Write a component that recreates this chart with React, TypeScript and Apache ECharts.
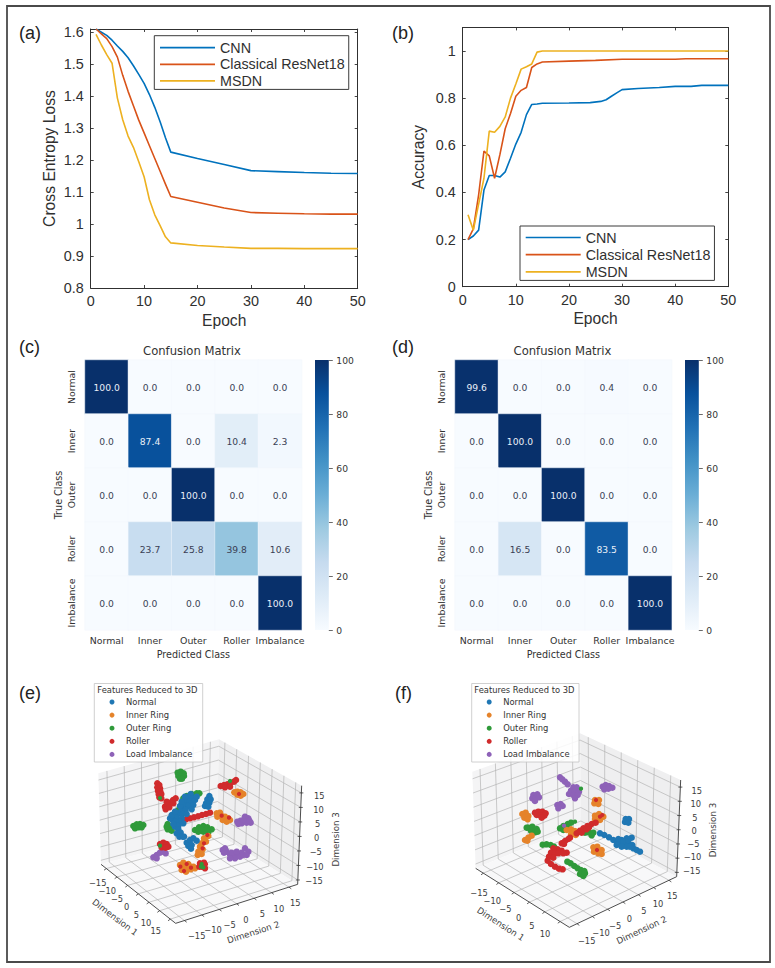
import React, { useEffect, useRef } from "react";
import * as echarts from "echarts";

// ---------- line charts ----------
const lossEpochs = [1,2,3,4,5,6,7,8,9,10,11,12,13,14,15,20,25,30,35,40,45,50];
const lossCNN = [1.61,1.6,1.59,1.575,1.557,1.54,1.52,1.495,1.468,1.44,1.405,1.365,1.32,1.27,1.225,1.205,1.186,1.167,1.164,1.161,1.159,1.158];
const lossResNet = [1.61,1.595,1.58,1.555,1.522,1.465,1.415,1.37,1.325,1.285,1.245,1.205,1.165,1.125,1.086,1.068,1.05,1.036,1.034,1.032,1.031,1.031];
const lossMSDN = [1.593,1.56,1.53,1.503,1.394,1.326,1.275,1.24,1.195,1.148,1.076,1.029,0.995,0.96,0.941,0.933,0.928,0.924,0.924,0.923,0.923,0.923];

const accCNNx = [1,2,3,4,5,6,7,8,9,10,11,12,13,14,15,20,24,26,27,28,29,30,33,37,40,43,45,50];
const accCNN = [0.2,0.215,0.24,0.41,0.472,0.472,0.465,0.487,0.545,0.605,0.655,0.73,0.773,0.775,0.778,0.779,0.781,0.786,0.793,0.808,0.822,0.836,0.841,0.845,0.85,0.85,0.854,0.854];
const accResNetx = [1,2,3,4,5,6,7,8,9,10,11,12,13,14,15,20,25,30,40,42,50];
const accResNet = [0.2,0.245,0.39,0.575,0.555,0.46,0.56,0.67,0.735,0.808,0.833,0.845,0.93,0.945,0.953,0.957,0.96,0.965,0.965,0.967,0.967];
const accMSDNx = [1,2,3,4,5,6,7,8,9,10,11,12,13,14,15,50];
const accMSDN = [0.305,0.24,0.35,0.46,0.66,0.655,0.68,0.72,0.8,0.86,0.923,0.933,0.945,0.995,1,1];

const lineNames = ["CNN", "Classical ResNet18", "MSDN"];
const lineColors = ["#0072BD", "#D95319", "#EDB120"];

// ---------- confusion matrices ----------
const classes = ["Normal", "Inner", "Outer", "Roller", "Imbalance"];
const matrixC = [
  [100, 0, 0, 0, 0],
  [0, 87.4, 0, 10.4, 2.3],
  [0, 0, 100, 0, 0],
  [0, 23.7, 25.8, 39.8, 10.6],
  [0, 0, 0, 0, 100],
];
const matrixD = [
  [99.6, 0, 0, 0.4, 0],
  [0, 100, 0, 0, 0],
  [0, 0, 100, 0, 0],
  [0, 16.5, 0, 83.5, 0],
  [0, 0, 0, 0, 100],
];
const BLUES = ["#f7fbff","#deebf7","#c6dbef","#9ecae1","#6baed6","#4292c6","#2171b5","#08519c","#08306b"];
const colorbarTop = [100];

// ---------- 3D feature clusters, read as positions on the projected picture plane ----------
const classNames3D = ["Normal", "Inner Ring", "Outer Ring", "Roller", "Load Imbalance"];
const classColors3D = ["#1f77b4", "#e5832a", "#2f9a3a", "#d02b2c", "#8e62b8"];

const outerE = [[533,308],[542,305],[551,310],[535,318],[545,318],[552,318],[540,326],[546,326],[550,385],[560,378],[575,372],[590,370],[598,370],[540,410],[535,420],[400,468],[410,463],[420,462],[430,465],[405,475],[415,472],[425,472],[503,462],[512,470],[503,478],[515,482],[500,470],[585,480],[597,472],[610,468],[622,472],[635,478],[595,485],[610,485],[625,487],[605,478],[618,480]];
const imbalanceE = [[722,452],[735,440],[745,445],[712,455],[725,460],[740,458],[752,458],[738,448],[730,450],[715,462],[748,452],[460,562],[470,555],[480,548],[490,545],[497,550],[470,565],[668,540],[680,545],[690,553],[702,558],[712,553],[725,548],[735,535],[745,545],[705,565],[720,560],[675,535],[695,548],[710,545],[730,555],[690,565],[740,555],[672,548]];
const innerE = [[703,367],[712,365],[722,367],[730,372],[712,374],[722,377],[650,430],[660,428],[652,440],[665,438],[675,440],[685,445],[668,450],[680,455],[690,450],[625,498],[612,505],[618,515],[605,520],[600,530],[608,538],[595,545],[605,552],[593,555],[540,585],[550,578],[565,582],[580,590],[545,600],[558,605],[572,598],[585,595],[555,592],[570,590]];
const rollerE = [[472,340],[478,345],[472,352],[480,355],[474,362],[481,365],[476,372],[484,372],[478,382],[484,385],[495,410],[503,405],[511,398],[519,390],[527,385],[497,418],[508,412],[520,400],[500,395],[662,348],[672,345],[682,343],[692,338],[702,335],[708,330],[675,352],[690,350],[558,448],[570,445],[582,442],[594,439],[606,435],[618,432],[630,428],[480,522],[490,518],[500,522],[485,532],[497,533],[505,530],[600,580],[612,578],[605,590],[615,595],[598,590]];
const strayRollerE = [[717,372],[665,437],[687,443],[622,495],[608,535],[612,520],[541,590],[560,582],[573,593],[552,603],[618,583]];
const normalE = [[628,378],[622,388],[632,388],[618,400],[628,398],[615,408],[625,410],[572,372],[565,382],[577,385],[558,393],[570,395],[550,405],[565,408],[580,405],[545,418],[557,420],[535,430],[548,432],[520,437],[530,442],[545,445],[518,450],[525,455],[540,455],[525,470],[535,468],[535,478],[530,490],[542,488],[538,500],[548,500],[552,500],[560,518],[570,510],[580,505],[590,512],[565,528],[575,525],[573,536],[510,445],[515,435],[525,425],[540,408],[555,380],[545,395],[585,390],[590,380],[560,432],[550,460],[520,462],[575,418]];
const strayOuterE = [[480,384],[690,333],[480,527],[605,582],[610,592],[603,590]];

const outerF = [[425,473],[430,473],[442,470],[455,477],[438,482],[450,487],[458,485],[525,475],[535,468],[548,462],[558,458],[535,480],[547,473],[600,488],[612,487],[625,488],[620,496],[473,524],[485,523],[497,525],[507,530],[547,575],[557,580],[568,588],[578,595],[588,600],[598,603],[585,612],[595,618],[600,610]];
const imbalanceF = [[525,322],[532,328],[540,335],[548,343],[565,352],[575,352],[558,362],[570,362],[582,365],[552,372],[565,375],[578,375],[570,385],[653,350],[662,345],[672,348],[682,353],[658,358],[670,356],[445,375],[457,373],[442,385],[452,385],[462,382],[450,393],[517,405],[527,402],[533,408],[520,415]];
const innerF = [[630,390],[642,390],[628,400],[640,402],[412,432],[422,428],[430,438],[418,443],[428,448],[630,437],[642,432],[655,440],[630,447],[645,450],[420,510],[430,503],[440,497],[427,512],[545,480],[558,478],[570,483],[558,492],[572,495],[625,532],[637,530],[650,540],[627,545],[640,550],[650,552],[638,540],[645,545]];
const rollerF = [[450,428],[460,425],[472,425],[482,430],[455,435],[467,437],[478,437],[470,443],[575,490],[585,482],[595,475],[607,468],[620,462],[632,458],[590,488],[604,478],[612,472],[530,520],[540,513],[550,507],[555,503],[537,522],[545,548],[530,542],[518,538],[505,535],[498,548],[510,550],[520,550],[535,550],[492,560],[505,563],[488,572],[498,582],[510,590],[522,596],[533,598]];
const strayRollerF = [[633,390],[645,440],[652,435],[636,540]];
const normalF = [[722,447],[732,447],[720,456],[730,458],[645,490],[658,495],[672,502],[685,510],[697,517],[710,510],[725,505],[740,503],[705,522],[718,520],[730,518],[742,525],[745,535],[755,540],[765,545],[725,530],[735,530],[700,507],[715,515],[730,510],[710,530],[695,525]];
const strayOuterF = [[588,356],[570,455]];
const strayImbalanceF = [[537,467]];

const ticksXE = [-15,-10,-5,0,5,10,15];
const ticksXF = [-15,-10,-5,0,5,10];
const ticksYZ = [-15,-10,-5,0,5,10,15];

// ---------- layout ----------
const SANS = "'Liberation Sans', Arial, sans-serif";
const DEJA = "'DejaVu Sans', sans-serif";
const INK = "#303030";

type P = number[];
type Prim =
  | { k: "poly"; pts: P[]; fill: string }
  | { k: "line"; a: P; b: P; color: string; w: number }
  | { k: "text"; at: P; text: string; size: number; rot?: number };

const fmtTick = (t: number) => (t < 0 ? "\u2212" + Math.abs(t) : String(t));

function wireframe(g: any): Prim[] {
  const { c, lim } = g;
  const frac = (i: number, t: number) => (t - lim[i][0]) / (lim[i][1] - lim[i][0]);
  const mix = (a: P, b: P, t: number) => [a[0] + (b[0] - a[0]) * t, a[1] + (b[1] - a[1]) * t];
  const pos = (u: number, v: number, w: number) => {
    const lo = mix(mix(c.b00, c.b10, u), mix(c.b01, c.b11, u), v);
    const hi = mix(mix(c.t00, c.t10, u), mix(c.t01, c.t11, u), v);
    return mix(lo, hi, w);
  };
  const out: Prim[] = [];
  out.push({ k: "poly", pts: [pos(0,0,0), pos(0,1,0), pos(0,1,1), pos(0,0,1)], fill: "#f4f4f5" });
  out.push({ k: "poly", pts: [pos(0,1,0), pos(1,1,0), pos(1,1,1), pos(0,1,1)], fill: "#efeff0" });
  out.push({ k: "poly", pts: [pos(0,0,0), pos(1,0,0), pos(1,1,0), pos(0,1,0)], fill: "#f8f8f9" });
  const gc = "#b4b4b4";
  const gw = 0.7;
  g.tx.forEach((t: number) => {
    const u = frac(0, t);
    out.push({ k: "line", a: pos(u,0,0), b: pos(u,1,0), color: gc, w: gw });
    out.push({ k: "line", a: pos(u,1,0), b: pos(u,1,1), color: gc, w: gw });
  });
  g.ty.forEach((t: number) => {
    const v = frac(1, t);
    out.push({ k: "line", a: pos(1,v,0), b: pos(0,v,0), color: gc, w: gw });
    out.push({ k: "line", a: pos(0,v,0), b: pos(0,v,1), color: gc, w: gw });
  });
  g.tz.forEach((t: number) => {
    const w = frac(2, t);
    out.push({ k: "line", a: pos(0,0,w), b: pos(0,1,w), color: gc, w: gw });
    out.push({ k: "line", a: pos(0,1,w), b: pos(1,1,w), color: gc, w: gw });
  });
  const ax = "#3a3a3a";
  out.push({ k: "line", a: pos(0,0,0), b: pos(1,0,0), color: ax, w: 0.9 });
  out.push({ k: "line", a: pos(1,0,0), b: pos(1,1,0), color: ax, w: 0.9 });
  out.push({ k: "line", a: pos(1,1,0), b: pos(1,1,1), color: ax, w: 0.9 });
  g.tx.forEach((t: number) => {
    const p = pos(frac(0, t), 0, 0);
    out.push({ k: "line", a: p, b: [p[0] - 7, p[1] + 5], color: ax, w: 0.8 });
  });
  g.ty.forEach((t: number) => {
    const p = pos(1, frac(1, t), 0);
    out.push({ k: "line", a: p, b: [p[0] + 7, p[1] + 5], color: ax, w: 0.8 });
  });
  g.tz.forEach((t: number) => {
    const p = pos(1, 1, frac(2, t));
    out.push({ k: "line", a: [p[0] - 6, p[1]], b: [p[0] + 6, p[1]], color: ax, w: 0.8 });
  });
  const labels = (ticks: number[], s: P, e: P) =>
    ticks.forEach((t, i) => {
      out.push({ k: "text", at: mix(s, e, i / (ticks.length - 1)), text: fmtTick(t), size: 8.3 });
    });
  labels(g.tx, g.lx[0], g.lx[1]);
  labels(g.ty, g.ly[0], g.ly[1]);
  labels(g.tz, g.lz[0], g.lz[1]);
  g.names.forEach((n: any) => out.push({ k: "text", at: n.at, text: n.text, size: 8.7, rot: n.rot }));
  return out;
}

const geoE = {
  c: { b00:[303,583], b10:[527,760], b11:[893,643], b01:[650,490], t00:[295,310], t10:[520,470], t11:[905,347], t01:[657,208] },
  lim: [[-17.5,17.5],[-17.5,17.5],[-16.5,17.5]],
  tx: ticksXE, ty: ticksYZ, tz: ticksYZ,
  lx: [[293,638],[467,782]], ly: [[590,797],[886,700]], lz: [[942,632],[958,378]],
  names: [
    { at:[345,742], text:"Dimension 1", rot:-37*Math.PI/180 },
    { at:[760,787], text:"Dimension 2", rot:18*Math.PI/180 },
    { at:[1008,508], text:"Dimension 3", rot:Math.PI/2 },
  ],
};
const geoF = {
  c: { b00:[272,595], b10:[553,772], b11:[875,620], b01:[588,465], t00:[262,305], t10:[548,470], t11:[887,330], t01:[585,190] },
  lim: [[-17.5,13],[-17.5,17.5],[-16.5,17.5]],
  tx: ticksXF, ty: ticksYZ, tz: ticksYZ,
  lx: [[282,668],[480,793]], ly: [[605,812],[862,679]], lz: [[920,602],[935,363]],
  names: [
    { at:[347,762], text:"Dimension 1", rot:-33*Math.PI/180 },
    { at:[770,780], text:"Dimension 2", rot:25*Math.PI/180 },
    { at:[985,480], text:"Dimension 3", rot:Math.PI/2 },
  ],
};

const zip = (xs: number[], ys: number[]) => xs.map((x, i) => [x, ys[i]]);

function buildOption() {
  const grid: any[] = [];
  const xAxis: any[] = [];
  const yAxis: any[] = [];
  const series: any[] = [];

  const tickStyle = { lineStyle: { color: INK, width: 0.9 } };
  const lineStyleAxis = { onZero: false, lineStyle: { color: INK, width: 1 } };

  function linePanel(box: number[], ymin: number, ymax: number, yName: string, nameGap: number, data: number[][][]) {
    const gi = grid.length;
    grid.push({ left: box[0], top: box[1], width: box[2], height: box[3] });
    const xi = xAxis.length;
    const yi = yAxis.length;
    const xCommon = { type: "value", gridIndex: gi, min: 0, max: 50, interval: 10, splitLine: { show: false } };
    const yCommon = { type: "value", gridIndex: gi, min: ymin, max: ymax, interval: ymin === 0 ? 0.2 : 0.1, splitLine: { show: false } };
    xAxis.push({
      ...xCommon, position: "bottom", axisLine: lineStyleAxis,
      axisTick: { inside: true, length: 3, ...tickStyle },
      axisLabel: { color: INK, fontSize: 14.4, fontFamily: SANS, margin: 6 },
      name: "Epoch", nameLocation: "middle", nameGap: 24,
      nameTextStyle: { color: INK, fontSize: 15.6, fontFamily: SANS },
    });
    xAxis.push({ ...xCommon, position: "top", axisLine: lineStyleAxis, axisTick: { inside: true, length: 3, ...tickStyle }, axisLabel: { show: false } });
    yAxis.push({
      ...yCommon, position: "left", axisLine: lineStyleAxis,
      axisTick: { inside: true, length: 3, ...tickStyle },
      axisLabel: { color: INK, fontSize: 14.4, fontFamily: SANS, margin: 7, showMaxLabel: false },
      name: yName, nameLocation: "middle", nameGap,
      nameTextStyle: { color: INK, fontSize: 15.7, fontFamily: SANS },
    });
    yAxis.push({ ...yCommon, position: "right", axisLine: lineStyleAxis, axisTick: { inside: true, length: 3, ...tickStyle }, axisLabel: { show: false } });
    data.forEach((d, i) => {
      series.push({
        type: "line", name: lineNames[i], xAxisIndex: xi, yAxisIndex: yi, data: d,
        symbol: "none", showSymbol: false, itemStyle: { color: lineColors[i] },
        lineStyle: { color: lineColors[i], width: 1.6 }, silent: true, z: 2,
      });
    });
  }

  linePanel([90.7, 29, 267, 259], 0.8, 1.61, "Cross Entropy Loss", 33, [zip(lossEpochs, lossCNN), zip(lossEpochs, lossResNet), zip(lossEpochs, lossMSDN)]);
  linePanel([462.7, 27.4, 265.6, 259.3], 0, 1.1, "Accuracy", 36, [zip(accCNNx, accCNN), zip(accResNetx, accResNet), zip(accMSDNx, accMSDN)]);

  const heatIdx: number[] = [];
  function heatPanel(left: number, barLeft: number, matrix: number[][]) {
    const gi = grid.length;
    grid.push({ left, top: 360, width: 216.7, height: 270 });
    const xi = xAxis.length;
    const yi = yAxis.length;
    const tick = { alignWithLabel: true, length: 2.5, lineStyle: { color: "#444", width: 0.8 } };
    const nameStyle = { color: "#333", fontSize: 9.6, fontFamily: DEJA };
    xAxis.push({
      type: "category", gridIndex: gi, data: classes, position: "bottom",
      axisLine: { show: false }, axisTick: tick,
      axisLabel: { color: "#333", fontSize: 9.4, fontFamily: DEJA, margin: 6, interval: 0 },
      name: "Predicted Class", nameLocation: "middle", nameGap: 19, nameTextStyle: nameStyle,
    });
    yAxis.push({
      type: "category", gridIndex: gi, data: classes, inverse: true,
      axisLine: { show: false }, axisTick: tick,
      axisLabel: { color: "#333", fontSize: 9.4, fontFamily: DEJA, margin: 9, rotate: 90, interval: 0 },
      name: "True Class", nameLocation: "middle", nameGap: 22, nameTextStyle: nameStyle,
    });
    const data: any[] = [];
    matrix.forEach((row, r) =>
      row.forEach((v, c) =>
        data.push({ value: [c, r, v], label: { color: v > 60 ? "#e8eff7" : "#3a3f55" } })
      )
    );
    heatIdx.push(series.length);
    series.push({
      type: "heatmap", xAxisIndex: xi, yAxisIndex: yi, data, silent: true,
      itemStyle: { borderColor: "#f3f7fc", borderWidth: 0.5 },
      label: { show: true, fontSize: 9.2, fontFamily: DEJA, formatter: (p: any) => p.value[2].toFixed(1) },
    });
    const gb = grid.length;
    grid.push({ left: barLeft, top: 360, width: 13.8, height: 270 });
    const bx = xAxis.length;
    const by = yAxis.length;
    xAxis.push({ type: "category", gridIndex: gb, data: ["bar"], show: false });
    yAxis.push({
      type: "value", gridIndex: gb, min: 0, max: 100, interval: 20, position: "right",
      axisLine: { show: false, onZero: false }, splitLine: { show: false },
      axisTick: { show: true, length: 4, lineStyle: { color: "#444", width: 0.8 } },
      axisLabel: { color: "#333", fontSize: 9.2, fontFamily: DEJA, margin: 7.5 },
    });
    series.push({
      type: "bar", xAxisIndex: bx, yAxisIndex: by, data: colorbarTop, barWidth: "100%", silent: true,
      itemStyle: {
        color: new echarts.graphic.LinearGradient(0, 1, 0, 0, BLUES.map((c, i) => ({ offset: i / (BLUES.length - 1), color: c }))),
      },
    });
  }
  heatPanel(85, 315, matrixC);
  heatPanel(455, 685, matrixD);

  function panel3D(left: number, geo: any, clusters: number[][][], strays: number[][][]) {
    const gi = grid.length;
    grid.push({ left, top: 670, width: 390, height: 298 });
    const xi = xAxis.length;
    const yi = yAxis.length;
    xAxis.push({ type: "value", gridIndex: gi, min: 0, max: 1170, show: false });
    yAxis.push({ type: "value", gridIndex: gi, min: 0, max: 894, inverse: true, show: false });
    const prims = wireframe(geo);
    series.push({
      type: "custom", xAxisIndex: xi, yAxisIndex: yi, silent: true, clip: false, z: 1,
      data: prims.map((_, i) => [i, 0]),
      renderItem: (params: any, api: any) => {
        const p = prims[params.dataIndex];
        if (p.k === "poly") {
          return { type: "polygon", shape: { points: p.pts.map((q) => api.coord(q)) }, style: { fill: p.fill } };
        }
        if (p.k === "line") {
          const a = api.coord(p.a);
          const b = api.coord(p.b);
          return { type: "line", shape: { x1: a[0], y1: a[1], x2: b[0], y2: b[1] }, style: { stroke: p.color, lineWidth: p.w } };
        }
        const at = api.coord(p.at);
        return {
          type: "text", x: at[0], y: at[1], rotation: p.rot || 0,
          style: { text: p.text, fontSize: p.size, fontFamily: DEJA, fill: "#3c3c3c", align: "center", verticalAlign: "middle" },
        };
      },
    });
    // drawn in picture order: Outer, Imbalance, Inner, Roller, Normal
    const order = [2, 4, 1, 3, 0];
    clusters.forEach((pts, i) => {
      const cls = order[i];
      series.push({
        type: "scatter", name: classNames3D[cls], xAxisIndex: xi, yAxisIndex: yi, data: pts,
        symbol: "circle", symbolSize: 6.5, silent: true, clip: false, z: 2 + i / 10,
        itemStyle: { color: classColors3D[cls], opacity: 1 },
      });
    });
    // lone points that sit on top of other clusters: Roller, Outer, Imbalance
    const strayOrder = [3, 2, 4];
    strays.forEach((pts, i) => {
      const cls = strayOrder[i];
      series.push({
        type: "scatter", name: classNames3D[cls], xAxisIndex: xi, yAxisIndex: yi, data: pts,
        symbol: "circle", symbolSize: 4.3, silent: true, clip: false, z: 3 + i / 10,
        itemStyle: { color: classColors3D[cls], opacity: 1 },
      });
    });
  }
  panel3D(0, geoE, [outerE, imbalanceE, innerE, rollerE, normalE], [strayRollerE, strayOuterE]);
  panel3D(385, geoF, [outerF, imbalanceF, innerF, rollerF, normalF], [strayRollerF, strayOuterF, strayImbalanceF]);

  const lineLegend = (left: number, top: number, gap: number, pad: number[]) => ({
    left, top, orient: "vertical", data: lineNames, selectedMode: false,
    icon: "rect", itemWidth: 55, itemHeight: 1.7, itemGap: gap, padding: pad,
    borderColor: "#3a3a3a", borderWidth: 1, backgroundColor: "#fff",
    textStyle: { color: INK, fontSize: 14.3, fontFamily: SANS, lineHeight: 14 },
    z: 5,
  });
  const pointLegend = (left: number) => ({
    left, top: 697, orient: "vertical", data: classNames3D, selectedMode: false,
    icon: "circle", itemWidth: 18, itemHeight: 5, itemGap: 3.1, padding: 0,
    textStyle: { color: "#333", fontSize: 8.4, fontFamily: DEJA, lineHeight: 10 },
    z: 6,
  });

  const panelLabel = (x: number, y: number, text: string) => ({
    type: "text", x, y, z: 7,
    style: { text, fontSize: 18, fontFamily: SANS, fill: "#222", align: "left", verticalAlign: "middle" },
  });
  const legendBox = (x: number, w: number) => ({
    type: "rect", z: 4, shape: { x, y: 683.5, width: w, height: 78.5 },
    style: { fill: "rgba(255,255,255,0.85)", stroke: "#c4c4c4", lineWidth: 0.8 },
  });
  const legendTitle = (x: number) => ({
    type: "text", x, y: 689.5, z: 7,
    style: { text: "Features Reduced to 3D", fontSize: 8.35, fontFamily: DEJA, fill: "#333", align: "left", verticalAlign: "middle" },
  });
  const heatTitle = (x: number) => ({
    type: "text", x, y: 350.5, z: 7,
    style: { text: "Confusion Matrix", fontSize: 11.6, fontFamily: DEJA, fill: "#333", align: "center", verticalAlign: "middle" },
  });

  return {
    animation: false,
    backgroundColor: "#ffffff",
    grid, xAxis, yAxis, series,
    legend: [
      lineLegend(154.3, 35.7, 2.6, [5, 4, 1.5, 5.7]),
      lineLegend(520, 226, 3.2, [4.5, 4, 1.5, 5.7]),
      pointLegend(109.5),
      pointLegend(486.7),
    ],
    visualMap: [{
      show: false, type: "continuous", min: 0, max: 100, dimension: 2,
      seriesIndex: heatIdx, inRange: { color: BLUES },
    }],
    graphic: [
      { type: "rect", z: 8, shape: { x: 7, y: 6, width: 763, height: 956 }, style: { fill: "none", stroke: "#4a4a4a", lineWidth: 1.8 } },
      panelLabel(19, 33, "(a)"),
      panelLabel(392, 33, "(b)"),
      panelLabel(19, 347, "(c)"),
      panelLabel(392, 347, "(d)"),
      panelLabel(19, 693, "(e)"),
      panelLabel(395, 693, "(f)"),
      heatTitle(192),
      heatTitle(562.5),
      legendBox(94.3, 108.4),
      legendBox(471.7, 107.3),
      legendTitle(97.3),
      legendTitle(474.3),
    ],
  };
}

export default function App() {
  const ref = useRef<HTMLDivElement>(null);
  useEffect(() => {
    document.body.style.margin = "0";
    const chart = echarts.init(ref.current!, null, { renderer: "svg" });
    chart.setOption(buildOption() as any);
    return () => chart.dispose();
  }, []);
  return <div ref={ref} style={{ width: 775, height: 968 }} />;
}
